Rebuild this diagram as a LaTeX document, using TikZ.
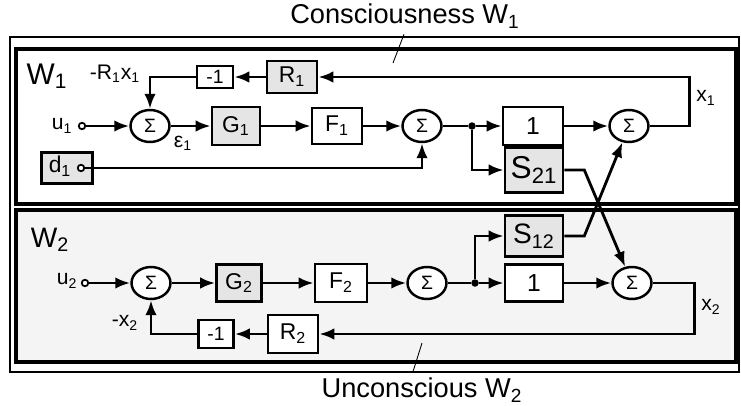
\documentclass[tikz,border=0pt]{standalone}
\usepackage{fontspec}
\setmainfont{Liberation Sans}
\usetikzlibrary{arrows.meta, shapes.geometric}

\begin{document}
\begin{tikzpicture}[x=0.02cm, y=-0.02cm]
\tikzset{blk/.style = {draw, line width=1.5pt, inner sep=0pt, fill=white},
  shd/.style = {blk, fill=gray!20},
  sum/.style = {ellipse, draw, line width=1.4pt, inner sep=0pt, minimum width=0.78cm, minimum height=0.64cm, fill=white, font=\fontsize{11}{13}\selectfont},
  term/.style = {circle, draw, line width=1pt, inner sep=0pt, minimum size=1.3mm, fill=white},
  dot/.style = {circle, fill, inner sep=0pt, minimum size=1.5mm},
  sig/.style = {line width=1.6pt, -{Latex[length=3mm, width=2.3mm]}},
  wire/.style = {line width=1.6pt},
  lbl/.style = {font=\fontsize{12}{14}\selectfont, inner sep=1pt},
  big/.style = {font=\fontsize{15.5}{17}\selectfont},
  frame/.style = {line width=1.9pt}}
\useasboundingbox (0,0) rectangle (741,406);

% frames
\draw[line width=0.6pt] (10,37) rectangle (739,372);
\draw[frame] (16,49) rectangle (736,204);
\draw[frame, fill=gray!9] (16,210) rectangle (736,362);

% titles
\node[big] (cons) at (405,16) {Consciousness W\textsubscript{1}};
\node[big] (uncons) at (422,390) {Unconscious W\textsubscript{2}};
\coordinate (p1) at (393,63);
\coordinate (p2) at (422,343);
\draw[line width=0.5pt] ([xshift=-0.02cm]cons.south) -- (p1);
\draw[line width=0.5pt] ([xshift=-0.18cm]uncons.north) -- (p2);

% upper loop
\node[font=\fontsize{17}{19}\selectfont] (w1) at (47,76) {W\textsubscript{1}};
\node[lbl] (rx1) at (115,74) {-R\textsubscript{1}x\textsubscript{1}};
\node[lbl] (u1) at (62,126) {u\textsubscript{1}};
\node[term] (t1) at (82,126) {};
\node[sum] (sum1) at (150,126) {Σ};
\node[lbl] (e1) at (183,143) {ε\textsubscript{1}};
\node[shd, minimum width=0.96cm, minimum height=0.76cm, font=\fontsize{13}{15}\selectfont] (g1) at (236,126) {G\textsubscript{1}};
\node[blk, minimum width=1.0cm, minimum height=0.72cm, font=\fontsize{13}{15}\selectfont] (f1) at (337,126) {F\textsubscript{1}};
\node[sum] (sum2) at (422,126) {Σ};
\node[dot] (j1) at (472,126) {};
\node[blk, minimum width=1.2cm, minimum height=0.76cm, font=\fontsize{14}{16}\selectfont] (one1) at (533,126) {1};
\node[shd, minimum width=1.16cm, minimum height=0.9cm, font=\fontsize{18}{20}\selectfont] (s21) at (534,170) {S\textsubscript{21}};
\node[sum] (sum3) at (629,126) {Σ};
\node[lbl] (x1) at (706,98) {x\textsubscript{1}};
\node[shd, minimum width=1.0cm, minimum height=0.64cm, font=\fontsize{13}{15}\selectfont] (r1) at (292,77) {R\textsubscript{1}};
\node[blk, minimum width=0.72cm, minimum height=0.44cm, font=\fontsize{11}{13}\selectfont] (n1) at (215,77) {-1};
\node[shd, minimum width=1.02cm, minimum height=0.62cm] (d1) at (67,168) {};
\node[lbl, font=\fontsize{13}{15}\selectfont] (d1txt) at (60,166) {d\textsubscript{1}};
\node[term] (td1) at (81,168) {};

% lower loop
\node[font=\fontsize{16}{18}\selectfont] (w2) at (50,240) {W\textsubscript{2}};
\node[lbl] (u2) at (67,281) {u\textsubscript{2}};
\node[term] (t2) at (85,283) {};
\node[sum] (sum4) at (151,283) {Σ};
\node[lbl] (mx2) at (125,323) {-x\textsubscript{2}};
\node[shd, minimum width=0.9cm, minimum height=0.74cm, font=\fontsize{13}{15}\selectfont] (g2) at (239,283) {G\textsubscript{2}};
\node[blk, minimum width=1.04cm, minimum height=0.76cm, font=\fontsize{13}{15}\selectfont] (f2) at (341,283) {F\textsubscript{2}};
\node[sum] (sum5) at (427,283) {Σ};
\node[dot] (j2) at (475,283) {};
\node[blk, minimum width=1.16cm, minimum height=0.74cm, font=\fontsize{14}{16}\selectfont] (one2) at (534,283) {1};
\node[shd, minimum width=1.16cm, minimum height=0.82cm, font=\fontsize{16}{18}\selectfont] (s12) at (534,236) {S\textsubscript{12}};
\node[sum] (sum6) at (632,283) {Σ};
\node[lbl] (x2) at (711,307) {x\textsubscript{2}};
\node[blk, minimum width=1.0cm, minimum height=0.76cm, font=\fontsize{13}{15}\selectfont] (r2) at (293,334) {R\textsubscript{2}};
\node[blk, minimum width=0.7cm, minimum height=0.56cm, font=\fontsize{11}{13}\selectfont] (n2) at (216,334) {-1};

%signals, upper
\draw[sig] (t1) -- (sum1);
\draw[sig] (sum1) -- (g1);
\draw[sig] (g1) -- (f1);
\draw[sig] (f1) -- (sum2);
\draw[sig] (td1) -| (sum2);
\draw[wire] (sum2) -- (j1);
\draw[sig] (j1) -- (one1);
\draw[sig] (j1) |- (s21);
\draw[sig] (one1) -- (sum3);
\draw[sig] (sum3.east) -- ++(40,0) |- (r1);
\draw[sig] (r1) -- (n1);
\draw[sig] (n1) -| (sum1);

%signals, lower
\draw[sig] (t2) -- (sum4);
\draw[sig] (sum4) -- (g2);
\draw[sig] (g2) -- (f2);
\draw[sig] (f2) -- (sum5);
\draw[wire] (sum5) -- (j2);
\draw[sig] (j2) -- (one2);
\draw[sig] (j2) |- (s12);
\draw[sig] (one2) -- (sum6);
\draw[sig] (sum6.east) -- ++(42,0) |- (r2);
\draw[sig] (r2) -- (n2);
\draw[sig] (n2) -| (sum4);

%cross coupling
\draw[sig] (s21.east) -- ++(20,0) -- (sum6);
\draw[sig] (s12.east) -- ++(20,0) -- (sum3);
\end{tikzpicture}
\end{document}
